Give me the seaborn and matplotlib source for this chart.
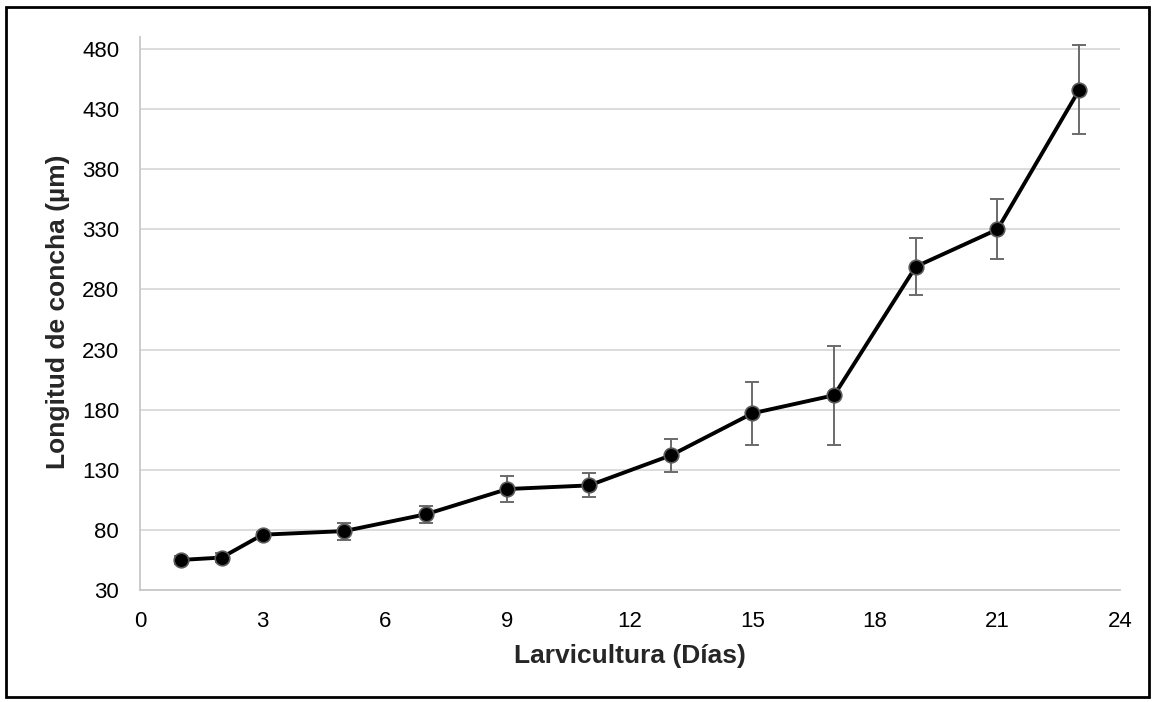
import matplotlib
matplotlib.use("Agg")
import matplotlib.pyplot as plt
import seaborn as sns
import pandas as pd
from matplotlib.patches import Rectangle

days = [1, 2, 3, 5, 7, 9, 11, 13, 15, 17, 19, 21, 23]
length = [55, 57, 76, 79, 93, 114, 117, 142, 177, 192, 299, 330, 446]
sd = [3, 4, 2, 7, 7, 11, 10, 14, 26, 41, 24, 25, 37]
x_ticks = [0, 3, 6, 9, 12, 15, 18, 21, 24]
y_ticks = [30, 80, 130, 180, 230, 280, 330, 380, 430, 480]

sns.set_theme(style="whitegrid")
plt.rcParams['font.family'] = ['Liberation Sans', 'DejaVu Sans']

df = pd.DataFrame({"Dia": days, "Longitud": length})

fig = plt.figure(figsize=(11.55, 7.02), dpi=100)
ax = fig.add_axes([140/1155, 1 - 590/702, (1120-140)/1155, (590-37)/702])

ax.errorbar(days, length, yerr=sd, fmt="none", ecolor="#6a6a6a",
            elinewidth=1.4, capsize=5, capthick=1.4, zorder=2)
sns.lineplot(data=df, x="Dia", y="Longitud", ax=ax, color="black", linewidth=2.8,
             marker="o", markersize=10.5, markerfacecolor="black",
             markeredgecolor="#5a5a5a", markeredgewidth=1.2, zorder=3)

ax.set_xlim(0, 24)
ax.set_ylim(30, 490)
ax.set_xticks(x_ticks)
ax.set_yticks(y_ticks)
ax.grid(axis="x", visible=False)
ax.grid(axis="y", color="#d9d9d9", linewidth=1.3)
for s in ["top", "right"]:
    ax.spines[s].set_visible(False)
for s in ["left", "bottom"]:
    ax.spines[s].set_color("#c8c8c8")
    ax.spines[s].set_linewidth(1.3)
ax.tick_params(axis="both", length=0, labelsize=16, colors="black", pad=15)
ax.set_xlabel("Larvicultura (Días)", fontsize=19, fontweight="bold", va="center")
ax.set_ylabel("Longitud de concha (µm)", fontsize=19, fontweight="bold", va="center")
ax.xaxis.set_label_coords(0.5, -(656 - 590) / 553)
ax.yaxis.set_label_coords((58 - 140) / 980, (590 - 312) / 553)

fig.patches.append(Rectangle((6/1155, 5/702), 1143/1155, 690/702, transform=fig.transFigure,
                             fill=False, edgecolor="black", linewidth=2))

fig.savefig("out.png", dpi=100, facecolor="white")
